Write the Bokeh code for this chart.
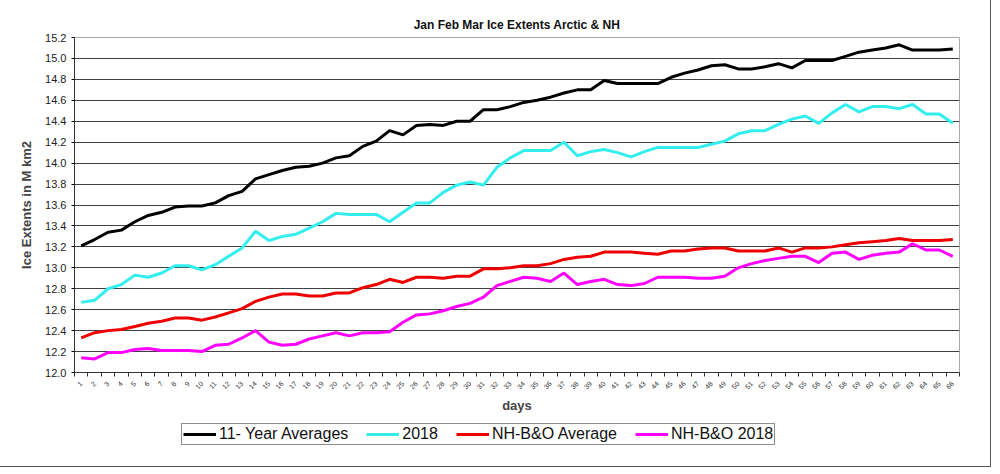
"""Jan Feb Mar ice extents, Arctic & NH, redrawn with Bokeh."""

import math

from bokeh.embed import file_html
from bokeh.layouts import column
from bokeh.models import (ColumnDataSource, FixedTicker, Legend, LegendItem,
                          NumeralTickFormatter, Range1d)
from bokeh.plotting import figure
from bokeh.resources import INLINE

# Values (M km2), days 1..66.
days = list(range(1, 67))

avg_11yr = [
    13.21, 13.27, 13.34, 13.36, 13.44, 13.50, 13.53, 13.58, 13.59, 13.59,
    13.62, 13.69, 13.73, 13.85, 13.89, 13.93, 13.96, 13.97, 14.00, 14.05,
    14.07, 14.16, 14.21, 14.31, 14.27, 14.36, 14.37, 14.36, 14.40, 14.40,
    14.51, 14.51, 14.54, 14.58, 14.60, 14.63, 14.67, 14.70, 14.70, 14.79,
    14.76, 14.76, 14.76, 14.76, 14.82, 14.86, 14.89, 14.93, 14.94, 14.90,
    14.90, 14.92, 14.95, 14.91, 14.98, 14.98, 14.98, 15.02, 15.06, 15.08,
    15.10, 15.13, 15.08, 15.08, 15.08, 15.09,
]

y2018 = [
    12.67, 12.69, 12.80, 12.84, 12.93, 12.91, 12.95, 13.02, 13.02, 12.98,
    13.03, 13.11, 13.19, 13.35, 13.26, 13.30, 13.32, 13.38, 13.44, 13.52,
    13.51, 13.51, 13.51, 13.44, 13.53, 13.62, 13.62, 13.72, 13.79, 13.82,
    13.79, 13.96, 14.05, 14.12, 14.12, 14.12, 14.20, 14.07, 14.11, 14.13,
    14.10, 14.06, 14.11, 14.15, 14.15, 14.15, 14.15, 14.18, 14.21, 14.28,
    14.31, 14.31, 14.37, 14.42, 14.45, 14.38, 14.48, 14.56, 14.49, 14.54,
    14.54, 14.52, 14.56, 14.47, 14.47, 14.38,
]

nh_bo_avg = [
    12.33, 12.38, 12.40, 12.41, 12.44, 12.47, 12.49, 12.52, 12.52, 12.50,
    12.53, 12.57, 12.61, 12.68, 12.72, 12.75, 12.75, 12.73, 12.73, 12.76,
    12.76, 12.81, 12.84, 12.89, 12.86, 12.91, 12.91, 12.90, 12.92, 12.92,
    12.99, 12.99, 13.00, 13.02, 13.02, 13.04, 13.08, 13.10, 13.11, 13.15,
    13.15, 13.15, 13.14, 13.13, 13.16, 13.16, 13.18, 13.19, 13.19, 13.16,
    13.16, 13.16, 13.19, 13.15, 13.19, 13.19, 13.20, 13.22, 13.24, 13.25,
    13.26, 13.28, 13.26, 13.26, 13.26, 13.27,
]

nh_bo_2018 = [
    12.14, 12.13, 12.19, 12.19, 12.22, 12.23, 12.21, 12.21, 12.21, 12.20,
    12.26, 12.27, 12.33, 12.40, 12.29, 12.26, 12.27, 12.32, 12.35, 12.38,
    12.35, 12.38, 12.38, 12.39, 12.48, 12.55, 12.56, 12.59, 12.63, 12.66,
    12.72, 12.83, 12.87, 12.91, 12.90, 12.87, 12.95, 12.84, 12.87, 12.89,
    12.84, 12.83, 12.85, 12.91, 12.91, 12.91, 12.90, 12.90, 12.92, 13.00,
    13.04, 13.07, 13.09, 13.11, 13.11, 13.05, 13.14, 13.15, 13.08, 13.12,
    13.14, 13.15, 13.23, 13.17, 13.17, 13.11,
]

y_ticks = [12.0, 12.2, 12.4, 12.6, 12.8, 13.0, 13.2, 13.4, 13.6, 13.8,
           14.0, 14.2, 14.4, 14.6, 14.8, 15.0, 15.2]

series_cols = ["avg", "y2018", "bo_avg", "bo_2018"]
series_names = ["11- Year Averages", "2018", "NH-B&O Average", "NH-B&O 2018"]
series_colors = ["#000000", "#33eeee", "#ee0000", "#ff00ff"]

FONT = "Liberation Sans"

source = ColumnDataSource(data=dict(
    day=days, avg=avg_11yr, y2018=y2018, bo_avg=nh_bo_avg, bo_2018=nh_bo_2018,
))

# fixed frame size keeps the side panels from eating the plot area
p = figure(
    frame_width=885,
    frame_height=335,
    x_range=Range1d(0.5, 66.5),
    y_range=Range1d(12.0, 15.2),
    output_backend="svg",
    toolbar_location=None,
    background_fill_color="white",
    border_fill_color="white",
    outline_line_color="#a8a8a8",
    min_border_left=74,
    min_border_right=31,
    min_border_top=37,
    min_border_bottom=50,
)

# title
p.title.text = "Jan Feb Mar Ice Extents Arctic & NH"
p.title.align = "center"
p.title.text_font = FONT
p.title.text_font_size = "12px"
p.title.text_font_style = "bold"
p.title.text_color = "#111111"
p.title.standoff = 11

# y axis
p.yaxis.ticker = FixedTicker(ticks=y_ticks)
p.yaxis.formatter = NumeralTickFormatter(format="0.0")
p.yaxis.axis_label = "Ice Extents in M km2"
p.yaxis.axis_label_text_font = FONT
p.yaxis.axis_label_text_font_size = "13px"
p.yaxis.axis_label_text_font_style = "bold"
p.yaxis.axis_label_standoff = 8
p.yaxis.major_label_text_font = FONT
p.yaxis.major_label_text_font_size = "11px"
p.yaxis.major_label_text_color = "#222222"
p.yaxis.major_tick_out = 3
p.yaxis.major_tick_in = 0
p.yaxis.minor_tick_line_color = None
p.yaxis.axis_line_color = "#333333"

# x axis: labels at day centres, small tick marks at the category borders
p.xaxis.ticker = FixedTicker(ticks=days, minor_ticks=[d - 0.5 for d in days] + [66.5])
p.xaxis.major_tick_line_color = None
p.xaxis.minor_tick_out = 4
p.xaxis.minor_tick_in = 0
p.xaxis.minor_tick_line_color = "#333333"
p.xaxis.axis_line_color = "#333333"
p.xaxis.major_label_orientation = math.pi / 4
p.xaxis.major_label_text_font = FONT
p.xaxis.major_label_text_font_size = "7px"
p.xaxis.major_label_text_color = "#333333"
p.xaxis.major_label_standoff = 4
p.xaxis.axis_label = "days"
p.xaxis.axis_label_text_font = FONT
p.xaxis.axis_label_text_font_size = "13px"
p.xaxis.axis_label_text_font_style = "bold"
p.xaxis.axis_label_standoff = 3

# grid
p.xgrid.grid_line_color = None
p.ygrid.ticker = FixedTicker(ticks=y_ticks)
p.ygrid.grid_line_color = "#404040"
p.ygrid.grid_line_width = 1

for col, color in zip(series_cols, series_colors):
    p.line(x="day", y=col, source=source, line_color=color, line_width=3)

# legend strip: a second, axis-less figure under the chart.  Its ranges keep
# the series out of view, so only the legend entries show.
lf = figure(
    width=990,
    height=44,
    x_range=Range1d(0, 1),
    y_range=Range1d(0, 1),
    output_backend="svg",
    toolbar_location=None,
    x_axis_location=None,
    y_axis_location=None,
    background_fill_color="white",
    border_fill_color="white",
    outline_line_color=None,
    min_border=0,
)
lf.xgrid.grid_line_color = None
lf.ygrid.grid_line_color = None

legend_renderers = []
for col, color in zip(series_cols, series_colors):
    r = lf.line(x="day", y=col, source=source, line_color=color, line_width=3)
    legend_renderers.append(r)

# the column lines this frame up with the chart frame, so x is from x=74
legend = Legend(
    items=[LegendItem(label=n, renderers=[r]) for n, r in zip(series_names, legend_renderers)],
    orientation="horizontal",
    location=(107, 21),
    label_text_font=FONT,
    label_text_font_size="16px",
    label_text_color="#111111",
    label_standoff=3,
    label_height=12,
    glyph_width=33,
    glyph_height=12,
    spacing=18,
    padding=1,
    margin=0,
    border_line_color="#222222",
    border_line_width=1,
    background_fill_color="white",
)
lf.add_layout(legend)

page = column(p, lf, spacing=0, styles={"outline": "1px solid #555555"})

open("out.html", "w").write(file_html(page, INLINE))
